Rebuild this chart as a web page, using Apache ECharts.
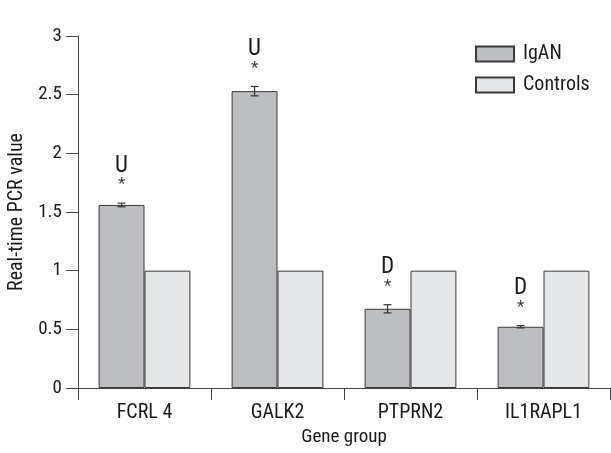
<!DOCTYPE html>
<html>
<head>
<meta charset="utf-8">
<script src="https://cdn.jsdelivr.net/npm/echarts@6/dist/echarts.min.js"></script>
<style>
html,body{margin:0;padding:0;background:#fff;}
#chart{width:611px;height:453px;}
</style>
</head>
<body>
<div id="chart"></div>
<script>
var categories = ['FCRL 4', 'GALK2', 'PTPRN2', 'IL1RAPL1'];
var iganValues = [1.56, 2.53, 0.675, 0.522];
var controlValues = [1, 1, 1, 1];
var iganErrors = [0.015, 0.04, 0.035, 0.01];
var significance = ['U', 'U', 'D', 'D'];
var seriesNames = ['IgAN', 'Controls'];
var xAxisTitle = 'Gene group';
var yAxisTitle = 'Real-time PCR value';

var FONT = "'Liberation Sans Narrow', 'Roboto Condensed', 'DejaVu Sans Condensed', Roboto, sans-serif";
var TXT = '#1a1a1a';

var errData = iganValues.map(function (v, i) { return [i, v, iganErrors[i], significance[i]]; });

var chart = echarts.init(document.getElementById('chart'));
chart.setOption({
  animation: false,
  backgroundColor: '#fff',
  textStyle: { fontFamily: FONT },
  grid: { left: 78, right: 1, top: 36, bottom: 65, containLabel: false, outerBoundsMode: 'none' },
  legend: {
    orient: 'vertical', left: 470, top: 39,
    itemWidth: 38, itemHeight: 15, itemGap: 11,
    icon: 'rect',
    textStyle: { fontFamily: FONT, fontSize: 20, color: TXT, padding: [0, 0, 0, 4] },
    data: seriesNames
  },
  xAxis: {
    type: 'category', data: categories,
    name: xAxisTitle, nameLocation: 'middle', nameGap: 40,
    nameTextStyle: { fontFamily: FONT, fontSize: 19, color: TXT },
    axisLine: { lineStyle: { color: '#444', width: 1 } },
    axisTick: { show: true, length: 12, alignWithLabel: false, lineStyle: { color: '#444' } },
    axisLabel: { margin: 15, fontFamily: FONT, fontSize: 20, color: TXT }
  },
  yAxis: {
    type: 'value', min: 0, max: 3, interval: 0.5,
    name: yAxisTitle, nameLocation: 'middle', nameGap: 49, nameRotate: 90,
    nameTextStyle: { fontFamily: FONT, fontSize: 20, color: TXT },
    splitLine: { show: false },
    axisLine: { show: true, lineStyle: { color: '#444', width: 1 } },
    axisTick: { show: true, length: 12, lineStyle: { color: '#444' } },
    axisLabel: { margin: 16, fontFamily: FONT, fontSize: 19, color: TXT }
  },
  series: [
    {
      name: seriesNames[0], type: 'bar', data: iganValues,
      barGap: '0%', barCategoryGap: '31%',
      itemStyle: { color: '#bdbec2', borderColor: '#3a3a3a', borderWidth: 1 }
    },
    {
      name: seriesNames[1], type: 'bar', data: controlValues,
      barGap: '0%', barCategoryGap: '31%',
      itemStyle: { color: '#e5e6e8', borderColor: '#3a3a3a', borderWidth: 1 }
    },
    {
      type: 'custom', name: 'err', data: errData, z: 10,
      encode: { x: 0, y: [1] },
      renderItem: function (params, api) {
        var idx = api.value(0), v = api.value(1), e = api.value(2);
        var mark = errData[params.dataIndex][3];
        var band = api.size([1, 0])[0];
        var barW = band * 0.69 / 2;
        var c = api.coord([idx, v]);
        var cx = c[0] - barW / 2;
        var top = api.coord([idx, v + e])[1];
        var bot = api.coord([idx, v - e])[1];
        var hw = 4;
        var st = { stroke: '#333', lineWidth: 1.2 };
        return {
          type: 'group',
          children: [
            { type: 'line', shape: { x1: cx, y1: top, x2: cx, y2: bot }, style: st },
            { type: 'line', shape: { x1: cx - hw, y1: top, x2: cx + hw, y2: top }, style: st },
            { type: 'line', shape: { x1: cx - hw, y1: bot, x2: cx + hw, y2: bot }, style: st },
            { type: 'text', style: { x: cx, y: top - 18, text: '*', fill: '#444', font: '17px ' + FONT, textAlign: 'center', textVerticalAlign: 'middle' } },
            { type: 'text', style: { x: cx, y: top - 37, text: mark, fill: TXT, font: '23px ' + FONT, textAlign: 'center', textVerticalAlign: 'middle' } }
          ]
        };
      }
    }
  ]
});
</script>
</body>
</html>
